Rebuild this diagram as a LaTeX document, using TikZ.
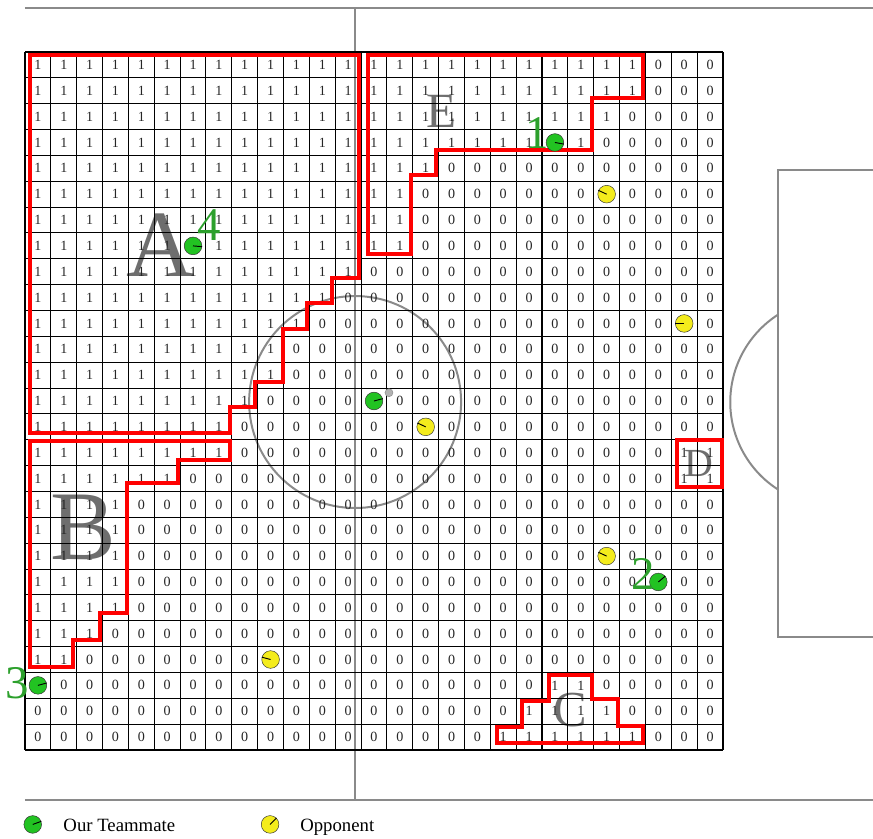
\documentclass[tikz,border=0pt]{standalone}
\usepackage{fontspec}
\setmainfont{Liberation Serif}
\usepackage{tikz}
\usetikzlibrary{positioning}
\definecolor{Mate}{HTML}{22C322}
\definecolor{MateText}{HTML}{2CA02C}
\definecolor{Opp}{HTML}{F4EC1C}
\definecolor{FieldGray}{HTML}{8A8A8A}
\definecolor{ZoneRed}{HTML}{FF0000}
\definecolor{ZoneText}{HTML}{6E6E6E}

\begin{document}
\begin{tikzpicture}[x=0.7755cm, y=0.7755cm,
  field/.style={draw=FieldGray, line width=1.7pt},
  gridline/.style={draw=black, line width=0.9pt},
  cellnum/.style={inner sep=0pt, text=black!85, font=\fontsize{12}{12}\selectfont},
  zone/.style={draw=ZoneRed, line width=3.4pt, line join=miter},
  zonename/.style={inner sep=0pt, text=ZoneText},
  mate/.style={circle, draw=black!80, fill=Mate, minimum size=0.53cm, inner sep=0pt},
  opp/.style={circle, draw=black!80, fill=Opp, minimum size=0.53cm, inner sep=0pt},
  heading/.style={draw=black, line width=0.8pt},
  matenum/.style={inner sep=0pt, text=MateText, font=\fontsize{40}{40}\selectfont},
  keytext/.style={inner sep=0pt, anchor=base west, font=\fontsize{16}{16}\selectfont}]
  \useasboundingbox (-0.967,2.012) rectangle (32.804,-30.406);
  \draw[field] (0,1.70) -- (32.8,1.70);
  \draw[field] (0,-28.94) -- (32.8,-28.94);
  \draw[field] (12.77,1.70) -- (12.77,-28.94);
  \draw[field] (12.77,-13.54) circle (4.1);
  \draw[field] (32.8,-4.565) -- (29.13,-4.565) -- (29.13,-22.63) -- (32.8,-22.63);
  \draw[field] (29.13,-10.16) arc[start angle=122.7, end angle=237.3, radius=4.02];
  \node[zonename, font=\fontsize{81}{81}\selectfont] (zA) at (5.26,-7.47) {A};
  \node[zonename, font=\fontsize{84}{84}\selectfont] (zB) at (2.24,-18.39) {B};
  \node[zonename, font=\fontsize{43}{43}\selectfont] (zC) at (21.08,-25.45) {C};
  \node[zonename, font=\fontsize{34}{34}\selectfont] (zD) at (26.07,-15.90) {D};
  \node[zonename, font=\fontsize{42}{42}\selectfont] (zE) at (16.13,-2.30) {E};
  \foreach \k in {0,...,27} {
    \draw[gridline] (\k,0) -- (\k,-27);
    \draw[gridline] (0,-\k) -- (27,-\k);
  }
  \foreach \row/\nlead/\ga/\gb in {0/24/99/0, 1/24/99/0, 2/23/99/0, 3/22/99/0,
      4/16/99/0, 5/15/99/0, 6/15/99/0, 7/15/99/0, 8/13/99/0, 9/12/99/0,
      10/11/99/0, 11/10/99/0, 12/10/99/0, 13/9/99/0, 14/8/99/0, 15/8/25/26,
      16/6/25/26, 17/4/99/0, 18/4/99/0, 19/4/99/0, 20/4/99/0, 21/4/99/0,
      22/3/99/0, 23/2/99/0, 24/0/20/21, 25/0/19/22, 26/0/18/23} {
    \foreach \col in {0,...,26} {
      \pgfmathtruncatemacro\val{or(\col<\nlead, and(\col>\ga-1, \col<\gb+1))}
      \node[cellnum] (n\row-\col) at (\col+0.5,-\row-0.5) {\val};
    }
  }
  \draw[zone] (0.19,-0.12) -- (12.92,-0.12) -- (12.92,-8.74) -- (11.86,-8.74)
    -- (11.86,-9.71) -- (10.91,-9.71) -- (10.91,-10.72) -- (9.98,-10.72)
    -- (9.98,-12.75) -- (8.90,-12.75) -- (8.90,-13.72) -- (7.93,-13.72)
    -- (7.93,-14.74) -- (0.19,-14.74) -- cycle;
  \draw[zone] (0.19,-15.05) -- (7.93,-15.05) -- (7.93,-15.78) -- (5.92,-15.78)
    -- (5.92,-16.66) -- (3.93,-16.66) -- (3.93,-21.70) -- (2.90,-21.70)
    -- (2.90,-22.75) -- (1.86,-22.75) -- (1.86,-23.78) -- (0.19,-23.78) -- cycle;
  \draw[zone] (13.28,-0.12) -- (23.91,-0.12) -- (23.91,-1.78) -- (21.93,-1.78)
    -- (21.93,-3.79) -- (15.90,-3.79) -- (15.90,-4.76) -- (14.92,-4.76)
    -- (14.92,-7.81) -- (13.28,-7.81) -- cycle;
  \draw[zone] (25.22,-14.99) rectangle (26.95,-16.82);
  \draw[zone] (18.25,-26.74) -- (18.25,-26.10) -- (19.24,-26.10) -- (19.24,-25.09)
    -- (20.28,-25.09) -- (20.28,-24.10) -- (21.92,-24.10) -- (21.92,-25.03)
    -- (22.95,-25.03) -- (22.95,-26.06) -- (23.90,-26.06) -- (23.90,-26.74) -- cycle;
  \node[circle, draw=FieldGray, fill=black!30, minimum size=0.24cm, inner sep=0pt] (ball) at (14.08,-13.18) {};
  \foreach \who/\px/\py/\ang in {m1/20/3/350, m2/24/20/40, m3/0/24/15, m4/6/7/355, m5/13/13/15} {
    \node[mate] (\who) at (\px+0.5,-\py-0.5) {};
    \draw[heading] (\who.center) -- (\who.\ang);
  }
  \foreach \who/\px/\py/\ang in {o1/22/5/155, o2/25/10/180, o3/22/19/155, o4/9/23/165, o5/15/14/155} {
    \node[opp] (\who) at (\px+0.5,-\py-0.5) {};
    \draw[heading] (\who.center) -- (\who.\ang);
  }
  \node[matenum] (t1) at (19.83,-3.13) {1};
  \node[matenum] (t2) at (23.93,-20.19) {2};
  \node[matenum] (t3) at (-0.29,-24.41) {3};
  \node[matenum] (t4) at (7.12,-6.69) {4};
  \node[mate] (keymate) at (0.30,-29.88) {};
  \draw[heading] (keymate.center) -- (keymate.20);
  \node[keytext] (keymatetext) at (1.48,-30.14) {Our Teammate};
  \node[opp] (keyopp) at (9.48,-29.88) {};
  \draw[heading] (keyopp.center) -- (keyopp.45);
  \node[keytext] (keyopptext) at (10.64,-30.14) {Opponent};
\end{tikzpicture}
\end{document}
